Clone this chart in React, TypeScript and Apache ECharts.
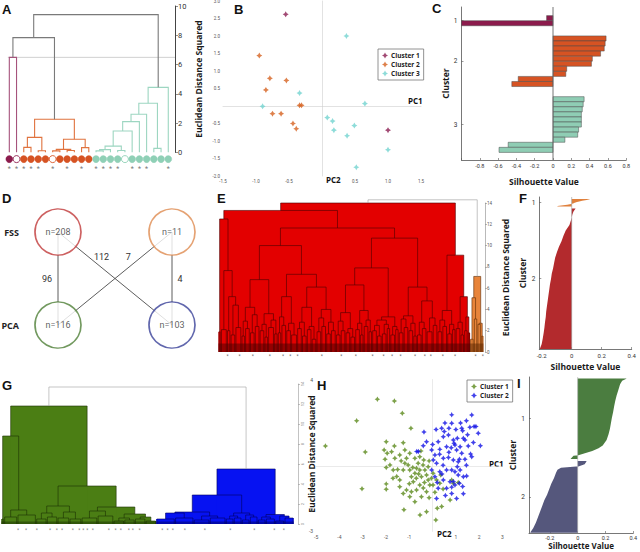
import React, { useEffect, useRef } from 'react';
import * as echarts from 'echarts';

const FONT = 'Roboto, "Liberation Sans", Arial, sans-serif';
const BOLD_FONT = '"Open Sans", Roboto, sans-serif';
const LETTER_FONT = '"Liberation Sans", Arial, sans-serif';

/* ---------------- Panel A : dendrogram with 23 leaves ---------------- */
const A_LEAF_CLUSTER = [0, 0, 1, 1, 1, 1, 1, 1, 1, 1, 1, 1, 2, 2, 2, 2, 2, 2, 2, 2, 2, 2, 2];
const A_OPEN_LEAVES = [1, 6, 16];
const A_STAR_LEAVES = [0, 1, 2, 3, 4, 6, 8, 10, 12, 13, 14, 15, 17, 18, 19, 22];
// [childA, childB, height, colour]; ids >= 23 refer to earlier merges
const A_MERGES = [
  [2, 3, 0.34, 1], [4, 5, 0.11, 1], [23, 24, 1.02, 1], [6, 7, 0.1, 1], [8, 9, 0.12, 1],
  [26, 27, 0.2, 1], [10, 11, 0.32, 1], [28, 29, 0.89, 1], [25, 30, 2.26, 1],
  [0, 1, 6.49, 0], [32, 31, 7.84, 3],
  [12, 13, 0.1, 2], [34, 14, 0.18, 2], [15, 16, 0.12, 2], [35, 36, 0.42, 2], [37, 17, 1.46, 2],
  [38, 18, 2.1, 2], [39, 19, 2.6, 2], [20, 21, 0.27, 2], [40, 41, 3.35, 2], [42, 22, 4.44, 2],
  [33, 43, 9.41, 3],
];
const A_CUT = 6.49;
const A_LINK_COLORS = ['#a6537c', '#e0733f', '#9dd6c1', '#7a7a7a'];
const A_DOT_COLORS = ['#8c1b4c', '#d65323', '#8fd0b6'];

/* ---------------- Panel B : PCA scatter ---------------- */
const B_CLUSTER1 = [[-0.55, 2.62], [1.0, -0.69]];
const B_CLUSTER2 = [
  [-0.95, 1.44], [-0.79, 0.79], [-0.54, 0.73], [-0.85, 0.46], [-0.75, -0.22],
  [-0.62, -0.22], [-0.34, 0.02], [-0.31, 0.02], [-0.44, -0.5], [-0.39, -0.65],
];
const B_CLUSTER3 = [
  [0.37, 2.0], [-0.34, 0.37], [-0.9, -0.01], [0.65, 0.07], [0.08, -0.33], [0.16, -0.43],
  [0.18, -0.69], [0.49, -0.56], [0.38, -0.85], [1.0, -1.25], [0.52, -1.75],
];
const B_COLORS = ['#8b1d51', '#d6621f', '#72d3d0'];

/* ---------------- Panel C : silhouette (3 clusters) ---------------- */
const C_SIL_1 = [-0.07, -1.0];
const C_SIL_2 = [0.58, 0.57, 0.56, 0.52, 0.43, 0.42, 0.15, 0.14, -0.38, -0.45];
const C_SIL_3 = [0.34, 0.33, 0.32, 0.31, 0.31, 0.31, 0.28, 0.27, 0.13, -0.49, -0.59];
const C_COLORS = ['#8c1b4c', '#d65323', '#8fcdb4'];
const C_GAP = 2;

/* ---------------- Panel D : overlap diagram ---------------- */
const D_NODE_LABELS = ['n=208', 'n=11', 'n=116', 'n=103'];
const D_NODE_X = [0, 1, 0, 1];
const D_NODE_Y = [1, 1, 0, 0];
const D_NODE_COLORS = ['#c03a3a', '#df8b50', '#4f7f37', '#3a4199'];
const D_EDGES = [[0, 2, 96], [0, 3, 112], [1, 2, 7], [1, 3, 4]];
const D_ROWS = ['PCA', 'FSS'];

/* ---------------- Panel E : FSS dendrogram (208 + 11 leaves) ---------------- */
// block = [leafCount, height]; merge = [left, right, height]
const E_N4 = [[2, 1.9], [[5, 2.1], [[3, 2.0], [[4, 1.6], [5, 2.3], 4.4], 5.2], 7.65], 12.5];
const E_N13 = [[[[3, 1.5], [4, 2.2], 2.9], [[4, 1.8], [4, 2.4], 3.5], 4.2], [[[4, 2.0], [3, 1.4], 2.6], [[5, 2.3], [3, 1.7], 3.0], 3.6], 6.8];
const E_N11 = [[[[3, 1.8], [4, 2.5], 3.3], [[4, 2.0], [5, 1.6], 2.7], 5.2], [[[[4, 2.2], [4, 1.5], 2.8], [[4, 2.1], [4, 1.2], 2.4], 4.2], [[[4, 1.9], [4, 2.4], 3.2], [[4, 1.7], [4, 2.0], 2.8], 4.0], 6.1], 7.3];
const E_N9 = [[[[[4, 1.6], [4, 2.0], 2.9], [[4, 1.8], [4, 1.4], 2.2], 3.7], [[[4, 2.1], [3, 1.6], 2.7], [[4, 2.4], [3, 1.9], 3.0], 3.9], 6.3], [[[[4, 2.0], [4, 1.5], 2.5], [[4, 1.7], [3, 2.2], 2.6], 3.0], [[4, 1.6], [3, 2.1], 2.4], 3.3], 7.9];
const E_N15 = [[[[4, 1.8], [4, 2.3], 3.1], [[4, 2.0], [3, 1.5], 2.7], 3.4], [[[4, 1.6], [4, 2.2], 2.8], [[5, 1.9], [4, 2.5], 3.2], 4.8], 6.1];
const E_N8 = [[[[4, 1.9], [4, 2.4], 3.0], [[4, 1.7], [3, 2.1], 2.6], 3.9], [[[4, 2.2], [3, 1.6], 2.8], [[3, 2.0], [2, 1.8], 3.3], 5.2], 9.1];
const E_RED = [[E_N4, [[E_N13, E_N11, 10.0], [E_N9, E_N15, 10.7], 11.65], 13.3], E_N8, 14.0];
const E_ORANGE = [[[3, 1.2], [3, 3.1], 5.1], [[3, 2.6], [2, 1.5], 2.7], 7.1];
const E_ROOT_H = 14.3;
const E_STARS = [7, 17, 28, 42, 53, 59, 65, 85, 101, 113, 127, 136, 143, 150, 162, 170, 175, 185, 195, 212, 218];
const E_FILLS = ['#e30000', '#e8843a', '#999999', 'rgba(70,0,0,0.5)', 'rgba(90,35,0,0.5)'];
const E_STROKES = ['#4a0000', '#5a2800', '#9a9a9a'];

/* ---------------- Panel F : silhouette (FSS) ---------------- */
const F_CLUSTER1 = [[0, 0.12], [1, 0.1], [2, 0.07], [3, 0.05], [4, 0.035], [5, 0.02], [6, 0.01], [7, -0.005], [8, -0.03], [9, -0.07], [10, -0.095]];
const F_CLUSTER2 = [
  [0, 0.025], [4, 0.012], [8, 0.005], [16, -0.004], [24, -0.015], [32, -0.04], [40, -0.055], [48, -0.068],
  [56, -0.085], [64, -0.098], [72, -0.11], [80, -0.117], [88, -0.124], [96, -0.133], [104, -0.138],
  [112, -0.145], [120, -0.15], [128, -0.155], [136, -0.16], [144, -0.165], [152, -0.17], [160, -0.173],
  [168, -0.178], [176, -0.182], [184, -0.187], [192, -0.193], [200, -0.2], [207, -0.212],
];
const F_SIZES = [11, 208];
const F_COLORS = ['#e0803c', '#b32a2d'];
const F_GAP = 3;

/* ---------------- Panel G : PCA dendrogram (116 + 103 leaves) ---------------- */
const G_GREEN = [
  [[2, 0.5], [[10, 0.7], [14, 0.9], 1.4], 8.8],
  [[[[8, 0.5], [8, 0.7], 1.1], [[9, 0.6], [9, 0.5], 1.2], 1.8], [[[12, 0.6], [12, 0.8], 1.3], [[[8, 0.3], [8, 0.4], 0.6], [[8, 0.5], [8, 0.3], 0.7], 1.0], 1.7], 3.8],
  11.8,
];
const G_BLUE = [
  [[[[14, 0.5], [14, 0.6], 1.1], [[12, 0.4], [12, 0.6], 0.8], 1.2], [[[6, 0.5], [6, 0.6], 0.8], [[6, 0.4], [6, 0.7], 0.9], 1.1], 2.9],
  [[[6, 0.4], [7, 0.5], 0.7], [[7, 0.3], [7, 0.6], 0.8], 0.95],
  5.5,
];
const G_ROOT_H = 13.7;
const G_STARS = [12, 18, 26, 36, 41, 45, 53, 58, 61, 64, 68, 80, 85, 89, 95, 98, 103, 120, 124, 128, 137, 152, 171, 189, 204, 211];
const G_FILLS = ['#4b7e14', '#0612f2', '#999999', 'rgba(20,40,0,0.45)', 'rgba(0,0,80,0.45)'];
const G_STROKES = ['#1c3004', '#00005e', '#a0a0a0'];

/* ---------------- Panel H : PCA scatter, 2 clusters ---------------- */
const H_CLUSTER1 = [
  [-2.37, 3.09], [-1.64, 3.01], [-1.3, 2.44], [-0.93, 1.75], [-3.26, 2.1], [-4.6, 0.94], [-2.89, 0.66],
  [-3.03, -1.03], [-1.99, 1.13], [-2.08, 0.75], [-2.04, 0.32], [-1.99, -0.05], [-1.99, -0.81], [-1.99, -1.06],
  [-1.64, 0.94], [-1.26, 1.08], [-1.54, -0.47], [-1.23, -2.0], [-0.54, -2.24], [-0.26, -2.09], [0.14, -2.47],
  [0.2, -1.93], [0.39, -1.85],
  [-1.95, 0.6], [-1.83, 0.06], [-1.69, -0.17], [-1.41, -0.63], [-1.26, -0.17], [-1.19, 0.14], [-1.12, 0.37],
  [-1.05, 0.06], [-0.98, -0.17], [-0.91, -0.48], [-0.83, -0.71], [-0.76, -0.32], [-0.69, -0.09], [-0.62, 0.14],
  [-0.55, -0.17], [-0.48, -0.48], [-0.41, 0.06], [-0.33, -0.17], [-0.26, -0.4], [-0.19, -0.63], [-0.12, -0.86],
  [-0.05, -0.55], [-0.55, -0.86], [-0.69, -1.09], [-0.91, -1.17], [-1.12, -1.09], [-1.26, -1.25], [-1.41, -0.94],
  [-0.98, -1.4], [-0.76, -1.63], [-0.48, -1.4], [-0.26, -1.17], [0.02, -0.86], [0.17, -0.63], [0.31, -0.78],
  [-0.19, -0.02], [0.02, -0.32], [-1.19, 0.75], [-1.41, 0.52], [-1.62, 0.37], [-1.76, 0.67], [-0.98, 0.6],
  [-0.76, 0.37], [-0.55, 0.44], [-0.38, 0.29],
  [0.82, -0.63], [0.89, -0.78], [1.1, -0.75], [0.75, -1.55],
  [-0.85, -0.05], [-0.6, -0.35], [-0.35, -0.75], [-0.7, -0.55], [-1.0, -0.8], [-0.4, -1.0], [0.1, -1.2],
  [0.45, -1.05], [-0.15, -1.45], [-1.5, -0.15], [-1.7, -0.55], [-0.5, 0.7], [-0.15, 0.25], [0.35, -0.4], [-1.35, 0.25],
];
const H_CLUSTER2 = [
  [0.82, 2.37], [0.53, 2.0], [0.39, 1.75], [-0.37, 1.58], [-0.26, 1.13], [-0.61, 0.68], [-0.68, 0.68],
  [-0.04, 0.75], [0.1, 0.52], [0.24, 1.13], [0.46, 1.36], [0.68, 1.44], [0.89, 1.21], [0.96, 0.98],
  [0.6, 0.9], [0.31, 0.78], [0.03, 0.29], [0.17, 0.14], [0.46, 0.37], [0.68, 0.41], [0.89, 0.29],
  [1.1, 0.21], [1.03, 0.75], [0.82, -0.17], [0.6, -0.17], [0.31, -0.25], [0.1, -0.48], [0.46, -0.63],
  [0.75, -0.71], [0.96, -0.86], [0.6, -1.01], [0.24, -1.01], [0.82, -1.25], [1.03, -1.48], [0.17, -1.48],
  [-0.04, -0.17],
  [0.82, 1.98], [1.0, 1.7], [1.25, 1.75], [1.29, 1.64], [1.6, 1.8], [1.68, 2.36], [1.78, 1.83], [1.86, 1.83],
  [1.96, 1.52], [1.06, 1.29], [1.32, 1.29], [1.39, 1.21], [0.92, 1.06], [1.18, 0.9], [1.53, 0.94], [1.63, 0.57],
  [1.68, 0.44], [1.39, 0.32], [1.15, 0.32], [1.06, -0.02], [0.96, -0.25], [1.18, -0.17], [1.32, -0.48],
  [1.46, -0.45], [0.89, -0.7], [1.15, -0.78], [1.29, -0.93], [1.32, -1.27], [0.82, -0.96],
  [0.3, 0.55], [0.7, 0.65], [1.25, 0.6], [0.45, 0.05], [1.45, 0.05], [0.2, -0.75], [0.55, -1.35], [1.1, -0.4],
  [1.5, 1.45], [1.2, 2.0], [0.5, 1.6], [0.0, 1.0], [-0.4, 0.95], [1.75, 1.1], [2.05, 0.95], [0.4, -0.35],
  [0.8, 0.85], [0.7, 1.75], [1.45, 2.1], [0.15, 1.7],
];
const H_COLORS = ['#5b8a1c', '#1414e6'];

/* ---------------- Panel I : silhouette (PCA) ---------------- */
const I_CLUSTER1 = [
  [0, 0.35], [3, 0.32], [8, 0.305], [16, 0.293], [24, 0.28], [32, 0.27], [40, 0.262], [48, 0.255],
  [56, 0.246], [64, 0.239], [72, 0.232], [80, 0.222], [88, 0.208], [96, 0.18], [100, 0.15], [104, 0.105],
  [108, 0.04], [110, 0.005], [111, -0.03], [115, -0.05],
];
const I_CLUSTER2 = [
  [0, 0.063], [4, 0.05], [7, 0.01], [9, -0.12], [12, -0.145], [16, -0.155], [24, -0.17], [32, -0.19],
  [40, -0.205], [48, -0.22], [56, -0.24], [64, -0.255], [72, -0.27], [80, -0.285], [88, -0.3], [96, -0.32], [102, -0.34],
];
const I_SIZES = [116, 103];
const I_COLORS = ['#4b7d40', '#55577c'];
const I_GAP = 3;

const SIL_TICKS = [-0.2, 0, 0.2, 0.4];
const STAR = 'path://M0,-10L3.6,-3.6L10,0L3.6,3.6L0,10L-3.6,3.6L-10,0L-3.6,-3.6Z';

/* ---------------- helpers ---------------- */
function linkageLinks(nLeaves: number, merges: number[][]) {
  const xs: number[] = [];
  const hs: number[] = [];
  for (let i = 0; i < nLeaves; i++) { xs.push(i); hs.push(0); }
  const out: number[][] = [];
  for (const [a, b, h, c] of merges) {
    out.push([xs[a], xs[b], hs[a], hs[b], h, c]);
    xs.push((xs[a] + xs[b]) / 2);
    hs.push(h);
  }
  return out;
}

function layoutTree(node: any[], start: number, color: number, links: number[][], blocks: number[][]): any {
  if (node.length === 2) {
    const [n, h] = node;
    blocks.push([start, start + n - 1, h, color]);
    return { x: start + (n - 1) / 2, h, n };
  }
  const L = layoutTree(node[0], start, color, links, blocks);
  const R = layoutTree(node[1], start + L.n, color, links, blocks);
  links.push([L.x, R.x, L.h, R.h, node[2], color]);
  return { x: (L.x + R.x) / 2, h: node[2], n: L.n + R.n };
}

function filledDendro(trees: any[][], rootH: number, bandH: number) {
  const links: number[][] = [];
  const blocks: number[][] = [];
  const roots: any[] = [];
  let start = 0;
  trees.forEach((t, i) => {
    const r = layoutTree(t, start, i, links, blocks);
    roots.push({ ...r, start });
    start += r.n;
  });
  const fills: number[][] = [
    ...links.map((l) => [l[0], l[1], 0, l[4], l[5]]),
    ...blocks.map((b) => [b[0] - 0.5, b[1] + 0.5, 0, b[2], b[3]]),
    ...roots.map((r, i) => [r.start - 0.5, r.start + r.n - 0.5, 0, bandH, 3 + i]),
  ];
  const strokes: number[][] = [
    ...blocks.map((b) => [b[0], b[1], 0, 0, b[2], b[3]]),
    ...links,
    [roots[0].x, roots[1].x, roots[0].h, roots[1].h, rootH, 2],
  ];
  return { fills, strokes };
}

function silLayout(groups: number[][][], sizes: number[], gap: number) {
  let s = 0;
  return groups.map((pts, i) => {
    const g = { start: s, n: sizes[i], pts };
    s += sizes[i] + gap;
    return g;
  });
}

const rectRender = (palette: string[]) => (_p: any, api: any) => {
  const a = api.coord([api.value(0), api.value(2)]);
  const b = api.coord([api.value(1), api.value(3)]);
  return {
    type: 'rect',
    shape: { x: Math.min(a[0], b[0]), y: Math.min(a[1], b[1]), width: Math.abs(b[0] - a[0]), height: Math.abs(b[1] - a[1]) },
    style: { fill: palette[api.value(4)] },
  };
};

const linkRender = (palette: string[], width: number) => (_p: any, api: any) => {
  const xl = api.value(0), xr = api.value(1), hl = api.value(2), hr = api.value(3), h = api.value(4);
  return {
    type: 'polyline',
    shape: { points: [api.coord([xl, hl]), api.coord([xl, h]), api.coord([xr, h]), api.coord([xr, hr])] },
    style: { stroke: palette[api.value(5)], fill: null, lineWidth: width },
  };
};

const starRender = (dy: number, size: number, color: string) => (_p: any, api: any) => {
  const pt = api.coord([api.value(0), 0]);
  return {
    type: 'text', x: pt[0], y: pt[1] + dy,
    style: { text: '*', fill: color, fontSize: size, fontFamily: FONT, align: 'center', verticalAlign: 'middle' },
  };
};

const silRender = (groups: any[], colors: string[]) => (_p: any, api: any) => {
  const g = groups[api.value(0)];
  const last = g.pts[g.pts.length - 1];
  const pts = [
    [0, g.start], [g.pts[0][1], g.start],
    ...g.pts.map(([r, v]: number[]) => [v, g.start + r + 0.5]),
    [last[1], g.start + g.n], [0, g.start + g.n],
  ];
  return { type: 'polygon', shape: { points: pts.map((p) => api.coord(p)) }, style: { fill: colors[api.value(0)] } };
};

const num = (v: number) => String(Math.round(v * 10) / 10);

export default function App() {
  const ref = useRef<HTMLDivElement>(null);
  useEffect(() => {
    if (!ref.current) return;
    const chart = echarts.init(ref.current, undefined, { renderer: 'svg' });

    const aLinks = linkageLinks(A_LEAF_CLUSTER.length, A_MERGES);
    const eDen = filledDendro([E_RED, E_ORANGE], E_ROOT_H, 0.8);
    const gDen = filledDendro([G_GREEN, G_BLUE], G_ROOT_H, 0.25);

    const cGroups = [C_SIL_1, C_SIL_2, C_SIL_3];
    const cBars: number[][] = [];
    const cLabelPos: number[] = [];
    let slot = 0;
    cGroups.forEach((vals, k) => {
      cLabelPos.push(slot + vals.length / 2);
      vals.forEach((v, j) => cBars.push([v, slot + j, k]));
      slot += vals.length + C_GAP;
    });
    const fGroups = silLayout([F_CLUSTER1, F_CLUSTER2], F_SIZES, F_GAP);
    const fLabelPos = fGroups.map((g) => g.start + g.n / 2);
    const iGroups = silLayout([I_CLUSTER1, I_CLUSTER2], I_SIZES, I_GAP);
    const iLabelPos = iGroups.map((g) => g.start + g.n / 2);

    const grids = [
      { left: 5.7, top: 6, width: 169.3, height: 146.3 }, // A
      { left: 223, top: 1, width: 198, height: 175 }, // B
      { left: 461.5, top: 7, width: 164.7, height: 153 }, // C
      { left: 58, top: 232, width: 114, height: 93 }, // D
      { left: 217.8, top: 203, width: 267.2, height: 149 }, // E
      { left: 539.3, top: 197, width: 92.4, height: 152 }, // F
      { left: 0, top: 384, width: 298, height: 140 }, // G
      { left: 316.1, top: 379.5, width: 186.4, height: 151.9 }, // H
      { left: 529, top: 377, width: 104.3, height: 156 }, // I
    ].map((g) => ({ ...g, containLabel: false, outerBoundsMode: 'none' }));

    const titleStyle = { fontSize: 8.5, fontWeight: 'bold', color: '#1a1a1a', fontFamily: BOLD_FONT };
    const hidden = (gridIndex: number, min: number, max: number) => ({ gridIndex, type: 'value', min, max, show: false });
    const silX = (gridIndex: number, min: number, max: number, gap: number, fs: number, margin: number, nameSize: number) => ({
      gridIndex, type: 'value', min, max,
      axisLine: { show: true, onZero: false, lineStyle: { color: '#555', width: 0.8 } },
      axisTick: { show: true, inside: true, length: 2, customValues: SIL_TICKS, lineStyle: { color: '#555', width: 0.6 } },
      axisLabel: { customValues: SIL_TICKS, fontSize: fs, color: '#333', margin, fontFamily: FONT, formatter: (v: number) => num(v) },
      splitLine: { show: false },
      name: 'Silhouette Value', nameLocation: 'middle', nameGap: gap, nameTextStyle: { ...titleStyle, fontSize: nameSize },
    });
    const silY = (gridIndex: number, min: number, max: number, pos: number[], gap: number) => ({
      gridIndex, type: 'value', inverse: true, min, max,
      axisLine: { show: true, onZero: false, lineStyle: { color: '#555', width: 0.8 } },
      axisTick: { show: true, inside: true, length: 2, customValues: pos, lineStyle: { color: '#555', width: 0.6 } },
      axisLabel: {
        customValues: pos, fontSize: 6.5, color: '#333', margin: 4, fontFamily: FONT,
        formatter: (v: number) => String(pos.findIndex((p) => Math.abs(p - v) < 1e-6) + 1),
      },
      splitLine: { show: false },
      name: 'Cluster', nameLocation: 'middle', nameRotate: 90, nameGap: gap, nameTextStyle: titleStyle,
    });
    const distAxis = (gridIndex: number, fs: number, gap: number, color: string, labelColor: string, rotate: number) => ({
      gridIndex, type: 'value', position: 'right', min: 0, max: gridIndex === 0 ? 10 : 14, interval: 2,
      axisLine: { show: true, onZero: false, lineStyle: { color, width: gridIndex === 0 ? 1 : 0.6 } },
      axisTick: { show: true, length: gridIndex === 0 ? 3 : 2, lineStyle: { color, width: 0.6 } },
      axisLabel: { fontSize: fs, color: labelColor, margin: gridIndex === 0 ? 3 : 2, fontFamily: FONT, rotate },
      splitLine: { show: false },
      name: 'Euclidean Distance Squared', nameLocation: 'middle', nameRotate: 90, nameGap: gap, nameTextStyle: titleStyle,
    });
    const pcaAxis = (gridIndex: number, min: number, max: number, interval: number, fmt: (v: number) => string, fs: number, lineColor: string) => ({
      gridIndex, type: 'value', min, max, interval,
      axisLine: { show: true, onZero: true, lineStyle: { color: lineColor, width: 0.6 } },
      axisTick: { show: false },
      axisLabel: { fontSize: fs, color: '#555', margin: 3, fontFamily: FONT, formatter: fmt },
      splitLine: { show: false },
    });

    const xAxis = [
      hidden(0, -0.5, 22.93),
      pcaAxis(1, -1.5, 1.5, 0.5, (v) => (Math.abs(v) < 1e-9 ? '' : v.toFixed(1)), 4.5, '#cfcfcf'),
      {
        gridIndex: 2, type: 'value', min: -1, max: 0.8, interval: 0.2,
        axisLine: { show: true, onZero: false, lineStyle: { color: '#555', width: 0.8 } },
        axisTick: { show: true, inside: true, length: 2, lineStyle: { color: '#555', width: 0.6 } },
        axisLabel: { fontSize: 5.5, color: '#333', margin: 3, fontFamily: FONT, formatter: (v: number) => (Math.abs(v + 1) < 1e-9 ? '' : num(v)) },
        splitLine: { show: false },
        name: 'Silhouette Value', nameLocation: 'middle', nameGap: 17, nameTextStyle: titleStyle,
      },
      hidden(3, 0, 1),
      hidden(4, -1, 219.8),
      silX(5, -0.216, 0.4, 13, 6, 3, 8.5),
      hidden(6, -1.5, 221.7),
      pcaAxis(7, -5, 3, 1, (v) => (v === 0 ? '' : String(v)), 5, '#dcdcdc'),
      silX(8, -0.35, 0.4, 8.5, 5.5, 2, 8),
    ];
    const yAxis = [
      distAxis(0, 7.5, 19, '#444', '#333', 0),
      pcaAxis(1, -2, 3, 0.5, (v) => (Math.abs(v) < 1e-9 ? '' : v.toFixed(1)), 4.5, '#cfcfcf'),
      silY(2, -1.7, 28.5, cLabelPos, 12),
      {
        gridIndex: 3, type: 'value', min: 0, max: 1,
        axisLine: { show: false }, axisTick: { show: false }, splitLine: { show: false },
        axisLabel: {
          customValues: [0, 1], margin: 39, fontSize: 9, fontWeight: 'bold', color: '#222', fontFamily: BOLD_FONT,
          formatter: (v: number) => D_ROWS[Math.round(v)],
        },
      },
      distAxis(4, 4.5, 16, '#8a8a8a', '#555', 0),
      silY(5, -3, 222, fLabelPos, 12),
      distAxis(6, 4, 9, '#9a9a9a', '#888', 90),
      pcaAxis(7, -3, 4, 1, (v) => (v === 0 ? '' : String(v)), 5, '#dcdcdc'),
      silY(8, -2, 222.5, iLabelPos, 5),
    ];

    const series: any[] = [
      // ---- A ----
      {
        type: 'line', xAxisIndex: 0, yAxisIndex: 0, data: [[-0.2, A_CUT], [22.93, A_CUT]], symbol: 'none', silent: true,
        lineStyle: { color: '#c4c4c4', width: 0.8 }, z: 1,
      },
      { type: 'custom', xAxisIndex: 0, yAxisIndex: 0, data: aLinks, renderItem: linkRender(A_LINK_COLORS, 1.1), silent: true, z: 2 },
      {
        type: 'custom', xAxisIndex: 0, yAxisIndex: 0, silent: true, z: 3,
        data: A_LEAF_CLUSTER.map((c, i) => [i, c, A_OPEN_LEAVES.includes(i) ? 1 : 0]),
        renderItem: (_p: any, api: any) => {
          const pt = api.coord([api.value(0), 0]);
          const c = api.value(1);
          const open = api.value(2) === 1;
          return {
            type: 'circle', shape: { cx: pt[0], cy: pt[1] + 6.8, r: 3.5 },
            style: { fill: open ? '#ffffff' : A_DOT_COLORS[c], stroke: A_DOT_COLORS[c], lineWidth: open ? 0.9 : 0.4 },
          };
        },
      },
      { type: 'custom', xAxisIndex: 0, yAxisIndex: 0, silent: true, data: A_STAR_LEAVES.map((i) => [i]), renderItem: starRender(17, 7, '#777') },
      // ---- B ----
      ...[B_CLUSTER1, B_CLUSTER2, B_CLUSTER3].map((d, k) => ({
        type: 'scatter', name: `Cluster ${k + 1}`, xAxisIndex: 1, yAxisIndex: 1, data: d, symbol: STAR, symbolSize: 6,
        itemStyle: { color: B_COLORS[k] }, silent: true,
      })),
      // ---- C ----
      {
        type: 'custom', xAxisIndex: 2, yAxisIndex: 2, data: cBars, silent: true, z: 2,
        renderItem: (_p: any, api: any) => {
          const a = api.coord([0, api.value(1)]);
          const b = api.coord([api.value(0), api.value(1) + 1]);
          return {
            type: 'rect',
            shape: { x: Math.min(a[0], b[0]), y: Math.min(a[1], b[1]), width: Math.abs(b[0] - a[0]), height: Math.abs(b[1] - a[1]) },
            style: { fill: C_COLORS[api.value(2)], stroke: '#4a4a4a', lineWidth: 0.5 },
          };
        },
      },
      { type: 'line', xAxisIndex: 2, yAxisIndex: 2, data: [[0, -1.7], [0, 28.5]], symbol: 'none', silent: true, lineStyle: { color: '#666', width: 0.9 }, z: 3 },
      // ---- D ----
      {
        type: 'custom', xAxisIndex: 3, yAxisIndex: 3, data: D_EDGES, silent: true, z: 1,
        renderItem: (_p: any, api: any) => {
          const a = api.value(0), b = api.value(1);
          const p0 = api.coord([D_NODE_X[a], D_NODE_Y[a]]);
          const p1 = api.coord([D_NODE_X[b], D_NODE_Y[b]]);
          return { type: 'line', shape: { x1: p0[0], y1: p0[1], x2: p1[0], y2: p1[1] }, style: { stroke: '#333', lineWidth: 0.8 } };
        },
      },
      {
        type: 'scatter', xAxisIndex: 3, yAxisIndex: 3, silent: true, z: 3, symbol: 'circle', symbolSize: 46,
        data: D_NODE_LABELS.map((name, i) => ({
          name, value: [D_NODE_X[i], D_NODE_Y[i]],
          itemStyle: { color: '#ffffff', borderColor: D_NODE_COLORS[i], borderWidth: 1.7 },
        })),
        label: { show: true, position: 'inside', formatter: '{b}', fontSize: 9, color: '#333', fontFamily: FONT },
      },
      {
        type: 'custom', xAxisIndex: 3, yAxisIndex: 3, data: D_EDGES, silent: true, z: 4,
        renderItem: (_p: any, api: any) => {
          const a = api.value(0), b = api.value(1);
          const vertical = D_NODE_X[a] === D_NODE_X[b];
          const t = vertical ? 0.5 : 0.4;
          const x = D_NODE_X[a] + (D_NODE_X[b] - D_NODE_X[a]) * t;
          const y = D_NODE_Y[a] + (D_NODE_Y[b] - D_NODE_Y[a]) * t;
          const p = api.coord([x, y]);
          const dx = vertical ? (D_NODE_X[a] === 0 ? -11 : 8) : (D_NODE_X[a] === 0 ? -2 : 2);
          const dy = vertical ? 0 : -12;
          return {
            type: 'text', x: p[0] + dx, y: p[1] + dy,
            style: { text: String(api.value(2)), fontSize: 9, fill: '#333', fontFamily: FONT, align: 'center', verticalAlign: 'middle' },
          };
        },
      },
      // ---- E ----
      { type: 'custom', xAxisIndex: 4, yAxisIndex: 4, data: eDen.fills, renderItem: rectRender(E_FILLS), silent: true, z: 1 },
      { type: 'custom', xAxisIndex: 4, yAxisIndex: 4, data: eDen.strokes, renderItem: linkRender(E_STROKES, 0.6), silent: true, z: 2 },
      { type: 'custom', xAxisIndex: 4, yAxisIndex: 4, data: E_STARS.map((i) => [i]), renderItem: starRender(4, 5, '#666'), silent: true },
      // ---- F ----
      { type: 'custom', xAxisIndex: 5, yAxisIndex: 5, data: [[0], [1]], renderItem: silRender(fGroups, F_COLORS), silent: true, z: 2 },
      { type: 'line', xAxisIndex: 5, yAxisIndex: 5, data: [[0, -3], [0, 222]], symbol: 'none', silent: true, lineStyle: { color: '#999', width: 0.6 }, z: 3 },
      // ---- G ----
      { type: 'custom', xAxisIndex: 6, yAxisIndex: 6, data: gDen.fills, renderItem: rectRender(G_FILLS), silent: true, z: 1 },
      { type: 'custom', xAxisIndex: 6, yAxisIndex: 6, data: gDen.strokes, renderItem: linkRender(G_STROKES, 0.6), silent: true, z: 2 },
      { type: 'custom', xAxisIndex: 6, yAxisIndex: 6, data: G_STARS.map((i) => [i]), renderItem: starRender(5.5, 5, '#777'), silent: true },
      // ---- H ----
      ...[H_CLUSTER1, H_CLUSTER2].map((d, k) => ({
        type: 'scatter', name: `H Cluster ${k + 1}`, xAxisIndex: 7, yAxisIndex: 7, data: d, symbol: STAR, symbolSize: 5.5,
        itemStyle: { color: H_COLORS[k] }, silent: true, z: 3,
      })),
      // ---- I ----
      { type: 'custom', xAxisIndex: 8, yAxisIndex: 8, data: [[0], [1]], renderItem: silRender(iGroups, I_COLORS), silent: true, z: 2 },
      { type: 'line', xAxisIndex: 8, yAxisIndex: 8, data: [[0, -2], [0, 222.5]], symbol: 'none', silent: true, lineStyle: { color: '#aaa', width: 0.6 }, z: 3 },
    ];

    const letters = [['A', 2, 3], ['B', 234, 3], ['C', 432, 2], ['D', 2, 192], ['E', 217, 192], ['F', 519, 192], ['G', 2, 379], ['H', 317, 379], ['I', 517, 377]];
    const floating = [['PC1', 408, 96], ['PC2', 326, 175], ['PC1', 489, 459], ['PC2', 437, 529]];

    const legendBase = {
      orient: 'vertical', backgroundColor: '#fff', borderColor: '#777', borderWidth: 0.8, padding: [3, 4],
      itemGap: 2, itemWidth: 6, itemHeight: 6, selectedMode: false,
      textStyle: { fontSize: 6.5, fontWeight: 'bold', color: '#222', fontFamily: BOLD_FONT, padding: [0, 0, 0, -2] },
    };

    chart.setOption({
      animation: false,
      backgroundColor: '#ffffff',
      grid: grids,
      xAxis,
      yAxis,
      series,
      legend: [
        { ...legendBase, left: 378, top: 49, data: ['Cluster 1', 'Cluster 2', 'Cluster 3'].map((name) => ({ name, icon: STAR })) },
        {
          ...legendBase, left: 467, top: 380, data: ['H Cluster 1', 'H Cluster 2'].map((name) => ({ name, icon: STAR })),
          formatter: (n: string) => n.replace('H ', ''),
        },
      ],
      graphic: [
        ...letters.map(([t, x, y]) => ({
          type: 'text', x, y, silent: true,
          style: { text: t, fontSize: 13, fontWeight: 'bold', fill: '#111', fontFamily: LETTER_FONT, verticalAlign: 'top' },
        })),
        ...floating.map(([t, x, y]) => ({
          type: 'text', x, y, silent: true,
          style: { text: t, fontSize: 8, fontWeight: 'bold', fill: '#111', fontFamily: BOLD_FONT, verticalAlign: 'top' },
        })),
      ],
    });
    return () => chart.dispose();
  }, []);

  return <div ref={ref} style={{ position: 'absolute', left: 0, top: 0, width: 640, height: 552 }} />;
}
